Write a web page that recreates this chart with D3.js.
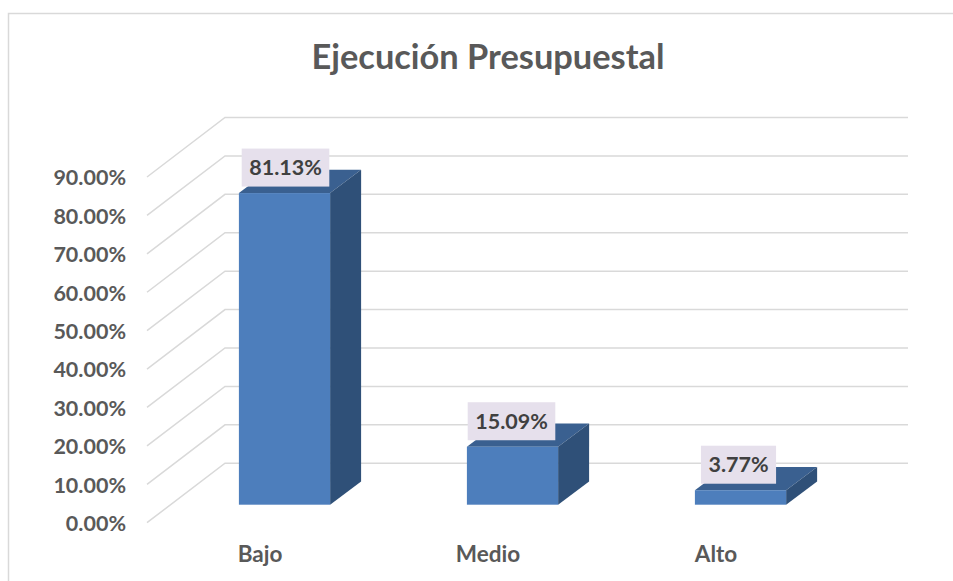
<!DOCTYPE html>
<html>
<head>
<meta charset="utf-8">
<script src="https://cdn.jsdelivr.net/npm/d3@7"></script>
<style>
  body { margin: 0; background: #fff; }
  text { font-family: Lato, "Open Sans", sans-serif; font-weight: 700; }
</style>
</head>
<body>
<div id="chart"></div>
<script>
var categories = ["Bajo", "Medio", "Alto"];
var values = [81.13, 15.09, 3.77];
var tickValues = [0, 10, 20, 30, 40, 50, 60, 70, 80, 90];
var chartTitle = "Ejecución Presupuestal";

var width = 953, height = 581;

// front edge of the 3d floor and how far back the wall sits
var wallDx = 78, wallDy = -59.5;
var barDx = 31, barDy = -23.3;
var floorLift = 18;

var svg = d3.select("#chart").append("svg")
  .attr("width", width)
  .attr("height", height);

// chart frame
svg.append("path")
  .attr("d", "M8.5," + height + "V13.5H" + width)
  .attr("fill", "none")
  .attr("stroke", "#d9d9d9")
  .attr("stroke-width", 1.5);

svg.append("text")
  .attr("x", 488)
  .attr("y", 69)
  .attr("text-anchor", "middle")
  .style("font-size", "34.4px")
  .style("fill", "#595959")
  .text(chartTitle);

var y = d3.scaleLinear().domain([0, 90]).range([522.7, 177]);
var x = d3.scaleBand().domain(categories).range([170.5, 854.5])
  .paddingInner(0.6).paddingOuter(0.3);

/****** GRID ******/
svg.append("g").selectAll("path")
  .data(tickValues)
  .enter()
  .append("path")
    .attr("d", function(d) {
      return "M147," + y(d) + "L" + (147 + wallDx) + "," + (y(d) + wallDy) + "H908";
    })
    .attr("fill", "none")
    .attr("stroke", "#d9d9d9")
    .attr("stroke-width", 1.5);

/****** AXIS ******/
var yAxis = d3.axisLeft(y)
  .tickValues(tickValues)
  .tickSize(0)
  .tickPadding(0)
  .tickFormat(function(d) { return d3.format(".2f")(d) + "%"; });

var gAxis = svg.append("g")
  .attr("transform", "translate(126,1)")
  .call(yAxis);
gAxis.select(".domain").remove();
gAxis.selectAll("text")
  .style("font-size", "21.5px")
  .style("font-family", "Lato, 'Open Sans', sans-serif")
  .style("fill", "#595959");

/****** BARS ******/
var bars = svg.append("g").selectAll("g")
  .data(categories)
  .enter()
  .append("g");

function barBottom() { return y(0) - floorLift; }
function barTop(i) { return barBottom() - (y(0) - y(values[i])); }

// top face
bars.append("path")
  .attr("d", function(c, i) {
    var x0 = x(c), x1 = x0 + x.bandwidth(), t = barTop(i);
    return "M" + x0 + "," + t + "L" + (x0 + barDx) + "," + (t + barDy) +
      "H" + (x1 + barDx) + "L" + x1 + "," + t + "Z";
  })
  .attr("fill", "#3A6090");

// side face
bars.append("path")
  .attr("d", function(c, i) {
    var x1 = x(c) + x.bandwidth(), t = barTop(i), b = barBottom();
    return "M" + x1 + "," + t + "L" + (x1 + barDx) + "," + (t + barDy) +
      "V" + (b + barDy) + "L" + x1 + "," + b + "Z";
  })
  .attr("fill", "#2F5078");

// front face
bars.append("rect")
  .attr("x", function(c) { return x(c); })
  .attr("y", function(c, i) { return barTop(i); })
  .attr("width", x.bandwidth())
  .attr("height", function(c, i) { return barBottom() - barTop(i); })
  .attr("fill", "#4D7EBC");

/****** DATA LABELS ******/
var labels = svg.append("g").selectAll("g")
  .data(categories)
  .enter()
  .append("g")
    .attr("transform", function(c, i) {
      return "translate(" + (x(c) + x.bandwidth() / 2 + (i == 0 ? 1 : i == 1 ? -1 : -2)) + "," + (barTop(i) - 25.5) + ")";
    });

labels.append("text")
  .attr("text-anchor", "middle")
  .attr("dy", "0.35em")
  .style("font-size", "21.5px")
  .style("fill", "#404040")
  .text(function(c, i) { return d3.format(".2f")(values[i]) + "%"; });

labels.insert("rect", "text")
  .each(function() {
    var b = this.parentNode.querySelector("text").getBBox();
    d3.select(this)
      .attr("x", b.x - 7.5)
      .attr("y", -19)
      .attr("width", b.width + 15)
      .attr("height", 38)
      .attr("fill", "#E6E0EC");
  });

/****** CATEGORY LABELS ******/
svg.append("g").selectAll("text")
  .data(categories)
  .enter()
  .append("text")
    .attr("x", function(c) { return x(c) + x.bandwidth() / 2 - 24.5; })
    .attr("y", 562)
    .attr("text-anchor", "middle")
    .style("font-size", "22.5px")
    .style("fill", "#595959")
    .text(function(c) { return c; });
</script>
</body>
</html>
